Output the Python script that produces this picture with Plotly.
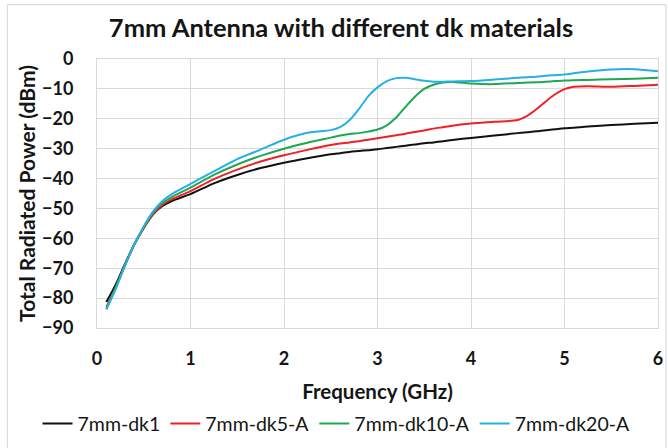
import plotly.graph_objects as go

freq_ghz = [0.1, 0.2, 0.3, 0.4, 0.5, 0.6, 0.7, 0.8, 1.0, 1.25, 1.5, 1.75, 2.0, 2.25, 2.5,
            2.6, 2.7, 2.8, 2.9, 3.0, 3.1, 3.2, 3.3, 3.4, 3.5, 3.6, 3.7, 3.8, 4.0, 4.25,
            4.5, 4.6, 4.7, 4.8, 4.9, 5.0, 5.1, 5.25, 5.5, 5.75, 6.0]

dk1 = [-81.3, -75.5, -68.5, -62.0, -56.5, -52.0, -49.2, -47.5, -45.2, -41.6, -38.8, -36.5,
       -34.7, -33.2, -31.9, -31.5, -31.1, -30.8, -30.5, -30.2, -29.8, -29.4, -29.0, -28.6,
       -28.2, -27.9, -27.5, -27.1, -26.4, -25.6, -24.8, -24.5, -24.2, -23.8, -23.5, -23.2,
       -23.0, -22.6, -22.1, -21.7, -21.3]

dk5_a = [-83.0, -76.5, -69.0, -62.0, -56.5, -51.8, -48.8, -47.0, -44.2, -40.2, -37.0, -34.3,
         -32.2, -30.4, -28.8, -28.3, -27.9, -27.5, -27.0, -26.5, -26.0, -25.5, -25.0, -24.4,
         -23.9, -23.3, -22.8, -22.3, -21.6, -21.0, -20.4, -19.0, -16.8, -14.2, -11.8, -10.1,
         -9.3, -9.1, -9.3, -9.0, -8.6]

dk10_a = [-83.5, -76.5, -69.0, -62.0, -56.2, -51.3, -48.2, -46.2, -43.0, -38.8, -35.3, -32.4,
          -30.0, -28.0, -26.3, -25.6, -25.1, -24.8, -24.3, -23.6, -22.2, -19.6, -16.0, -12.6,
          -10.0, -8.6, -7.9, -7.7, -8.2, -8.4, -8.0, -7.9, -7.8, -7.6, -7.4, -7.2,
          -7.1, -7.0, -6.8, -6.6, -6.3]

dk20_a = [-83.8, -77.0, -69.0, -62.0, -56.0, -51.0, -47.5, -45.2, -41.8, -37.6, -33.5, -30.3,
          -27.0, -24.7, -23.8, -22.8, -20.5, -16.8, -12.5, -9.5, -7.4, -6.4, -6.3, -6.8,
          -7.3, -7.6, -7.6, -7.5, -7.4, -6.9, -6.3, -6.1, -5.9, -5.6, -5.4, -5.2,
          -4.8, -4.2, -3.5, -3.4, -4.1]

series_names = ["7mm-dk1", "7mm-dk5-A", "7mm-dk10-A", "7mm-dk20-A"]
series_values = [dk1, dk5_a, dk10_a, dk20_a]
series_colors = ["#111111", "#ee2024", "#1fa852", "#27b0e4"]

x_ticks = [0, 1, 2, 3, 4, 5, 6]
y_ticks = [0, -10, -20, -30, -40, -50, -60, -70, -80, -90]

W, H = 668, 448
ML, MR, MT, MB = 97, 5, 59, 114
FONT = "Lato"
TXT = "#151515"
PW, PH = W - ML - MR, H - MT - MB

fig = go.Figure()
for name, vals, col in zip(series_names, series_values, series_colors):
    fig.add_trace(go.Scatter(x=freq_ghz, y=vals, name=name, mode="lines",
                             line=dict(color=col, width=2, shape="spline", smoothing=0.8)))

grid = "#d9d9d9"
fig.update_layout(
    width=W, height=H,
    margin=dict(l=ML, r=MR, t=MT, b=MB),
    paper_bgcolor="white", plot_bgcolor="white",
    font=dict(family=FONT, color=TXT),
    title=dict(text="7mm Antenna with different dk materials",
               x=341 / W, xref="container", xanchor="center",
               y=1 - 28 / H, yref="container", yanchor="middle",
               font=dict(size=25.5, family=FONT, color=TXT, weight="bold")),
    xaxis=dict(range=[0, 6], tickvals=x_ticks, showgrid=True, gridcolor=grid, gridwidth=1,
               zeroline=False, showline=True, mirror=True, linecolor=grid, linewidth=1,
               ticks="",
               tickfont=dict(size=18, family=FONT, color=TXT, weight="bold"),
               ticklabelstandoff=14, ticklabeloverflow="allow",
               title=dict(text="Frequency (GHz)", standoff=17,
                          font=dict(size=20.5, family=FONT, color=TXT, weight="bold"))),
    yaxis=dict(range=[-90, 0], tickvals=y_ticks, showgrid=True, gridcolor=grid, gridwidth=1,
               zeroline=False, showline=True, mirror=True, linecolor=grid, linewidth=1,
               ticks="",
               tickfont=dict(size=18, family=FONT, color=TXT, weight="bold"),
               ticklabelstandoff=19, ticklabeloverflow="allow",
               title=dict(text="Total Radiated Power (dBm)", standoff=0,
                          font=dict(size=21, family=FONT, color=TXT, weight="bold"))),
    legend=dict(orientation="h", xref="paper", yref="paper",
                x=(37 - ML) / PW, xanchor="left",
                y=(H - MB - 432) / PH, yanchor="middle",
                font=dict(size=19.5, family=FONT, color=TXT),
                itemwidth=30, tracegroupgap=0, bgcolor="rgba(0,0,0,0)"),
    showlegend=True,
)

# light grey chart-area border (Excel style), cropped at right/bottom like the reference
fig.add_shape(type="rect", xref="paper", yref="paper",
              x0=(6.5 - ML) / PW, x1=(W + 3 - ML) / PW,
              y0=(MB - H - 3) / PH, y1=(H - 3.5 - MB) / PH,
              line=dict(color="#d4d4d4", width=1), fillcolor="rgba(0,0,0,0)", layer="below")

# drop the browser's default 8px body margin so the 668x448 figure fills the window
fig.write_html("out.html",
               config={"displayModeBar": False},
               post_script="document.body.style.margin='0';document.body.style.overflow='hidden';")
